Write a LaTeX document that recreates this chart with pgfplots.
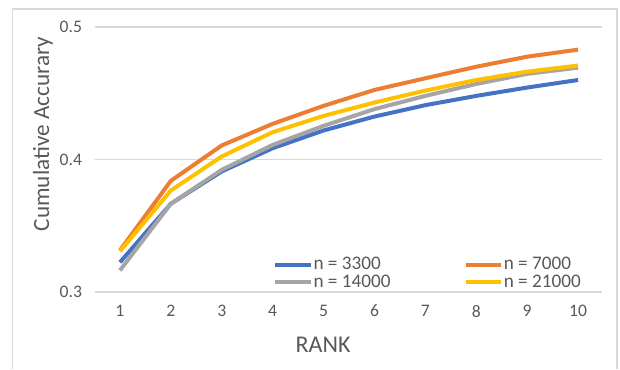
\documentclass[border=0pt]{standalone}
\usepackage{fontspec}
\setmainfont{Carlito}
\usepackage{pgfplots}
\pgfplotsset{compat=1.18}
\definecolor{cblue}{HTML}{4472C4}
\definecolor{corange}{HTML}{ED7D31}
\definecolor{cgray}{HTML}{A5A5A5}
\definecolor{cyellow}{HTML}{FFC000}
\definecolor{txt}{HTML}{595959}
\definecolor{gridc}{HTML}{D9D9D9}
\begin{document}
\begin{tikzpicture}
\begin{axis}[
  scale only axis,
  width=253.5pt, height=132.5pt,
  xmin=0.51, xmax=10.47,
  ymin=0.3, ymax=0.5,
  xtick={1,...,10},
  ytick={0.3,0.4,0.5},
  yticklabel style={/pgf/number format/fixed,/pgf/number format/precision=1},
  axis line style={draw=none},
  major tick style={draw=none},
  xmajorgrids=false,
  ymajorgrids=true,
  major grid style={draw=gridc, line width=0.8pt},
  ticklabel style={font=\fontsize{8.8}{10}\selectfont, text=txt},
  /pgf/number format/assume math mode=true,
  xticklabel style={yshift=-3pt},
  yticklabel style={xshift=-3pt},
  xlabel={RANK},
  ylabel={Cumulative Accurary},
  xlabel style={font=\fontsize{12}{14}\selectfont, text=txt, at={(rel axis cs:0.45,-0.2)}, anchor=center},
  ylabel style={font=\fontsize{11.6}{14}\selectfont, text=txt, at={(rel axis cs:-0.1026,0.596)}, anchor=center, rotate=0},
  clip=false,
  legend columns=2,
  legend cell align=left,
  legend style={draw=none, fill=none, at={(rel axis cs:0.339,0.152)}, anchor=north west,
    font=\fontsize{9.6}{10}\selectfont, text=txt,
    /tikz/every even column/.append style={column sep=36pt},
    nodes={inner sep=0.5pt}, row sep=0pt},
  legend image code/.code={\draw[#1, line width=2pt] (0cm,0cm) -- (0.62cm,0cm);},
  every axis plot/.append style={line width=2pt, line join=round},
]
\addplot[cblue] coordinates {(1,0.3224) (2,0.3666) (3,0.3910) (4,0.4085) (5,0.4219) (6,0.4324) (7,0.4410) (8,0.4480) (9,0.4543) (10,0.4600)};
\addlegendentry{n = 3300}
\addplot[corange] coordinates {(1,0.3314) (2,0.3839) (3,0.4106) (4,0.4269) (5,0.4405) (6,0.4525) (7,0.4613) (8,0.4700) (9,0.4776) (10,0.4829)};
\addlegendentry{n = 7000}
\addplot[cgray] coordinates {(1,0.3163) (2,0.3666) (3,0.3922) (4,0.4110) (5,0.4254) (6,0.4380) (7,0.4480) (8,0.4570) (9,0.4646) (10,0.4693)};
\addlegendentry{n = 14000}
\addplot[cyellow] coordinates {(1,0.3307) (2,0.3766) (3,0.4023) (4,0.4206) (5,0.4329) (6,0.4430) (7,0.4520) (8,0.4600) (9,0.4663) (10,0.4709)};
\addlegendentry{n = 21000}
\draw[gridc, line width=0.8pt] (rel axis cs:-0.1627,-0.2906) -- (rel axis cs:-0.1627,1.069) -- (rel axis cs:1.0296,1.069) -- (rel axis cs:1.0296,-0.2906);
\path (rel axis cs:-0.1874,-0.2906) rectangle (rel axis cs:1.0355,1.1019);
\end{axis}
\end{tikzpicture}
\end{document}
